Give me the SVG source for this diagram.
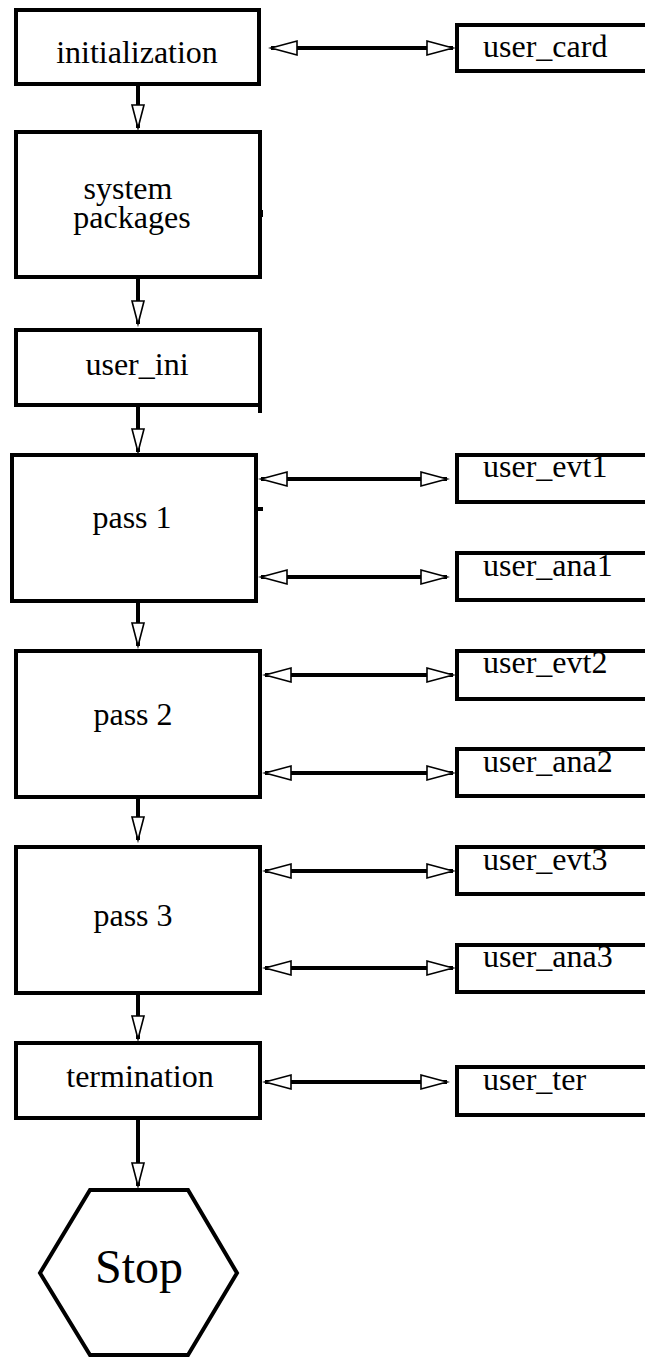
<svg xmlns="http://www.w3.org/2000/svg" width="645" height="1357" viewBox="0 0 645 1357">
<style>
  .box { fill: #fff; stroke: #000; stroke-width: 4; }
  .lbl { font-family: "Liberation Serif", "Times New Roman", serif; font-size: 32px; fill: #000; }
  .mid { text-anchor: middle; }
  .conn { stroke: #000; stroke-width: 4; fill: none; }
  .tick { fill: #000; }
</style>
<defs>
  <marker id="ah" markerUnits="userSpaceOnUse" markerWidth="30" markerHeight="18" refX="27" refY="8" orient="auto-start-reverse" viewBox="0 0 30 16">
    <path d="M1,1 L27,8 L1,15 Z" fill="#fff" stroke="#000" stroke-width="1.6"/>
  </marker>
  <marker id="av" markerUnits="userSpaceOnUse" markerWidth="28" markerHeight="16" refX="24" refY="7" orient="auto" viewBox="0 0 28 14">
    <path d="M1,1 L24,7 L1,13 Z" fill="#fff" stroke="#000" stroke-width="1.6"/>
  </marker>
</defs>
<rect width="645" height="1357" fill="#fff"/>

<g id="connectors">
  <line class="conn" x1="138" y1="86" x2="138" y2="128" marker-end="url(#av)"/>
  <line class="conn" x1="138" y1="279" x2="138" y2="324" marker-end="url(#av)"/>
  <line class="conn" x1="138" y1="407" x2="138" y2="452" marker-end="url(#av)"/>
  <line class="conn" x1="138" y1="603" x2="138" y2="646" marker-end="url(#av)"/>
  <line class="conn" x1="138" y1="792" x2="138" y2="840" marker-end="url(#av)"/>
  <line class="conn" x1="138" y1="995" x2="138" y2="1039" marker-end="url(#av)"/>
  <line class="conn" x1="138" y1="1120" x2="138" y2="1186" marker-end="url(#av)"/>

  <line class="conn" x1="271" y1="48" x2="453" y2="48" marker-start="url(#ah)" marker-end="url(#ah)"/>
  <line class="conn" x1="261" y1="479" x2="447" y2="479" marker-start="url(#ah)" marker-end="url(#ah)"/>
  <line class="conn" x1="261" y1="577" x2="447" y2="577" marker-start="url(#ah)" marker-end="url(#ah)"/>
  <line class="conn" x1="265" y1="675" x2="453" y2="675" marker-start="url(#ah)" marker-end="url(#ah)"/>
  <line class="conn" x1="265" y1="773" x2="453" y2="773" marker-start="url(#ah)" marker-end="url(#ah)"/>
  <line class="conn" x1="265" y1="871" x2="453" y2="871" marker-start="url(#ah)" marker-end="url(#ah)"/>
  <line class="conn" x1="265" y1="968" x2="453" y2="968" marker-start="url(#ah)" marker-end="url(#ah)"/>
  <line class="conn" x1="265" y1="1082" x2="447" y2="1082" marker-start="url(#ah)" marker-end="url(#ah)"/>
</g>

<g id="initialization">
  <rect class="box" x="16" y="10" width="243" height="74"/>
  <text class="lbl mid" x="137" y="63">initialization</text>
</g>
<g id="system_packages">
  <rect class="box" x="16" y="132" width="244" height="145"/>
  <rect class="tick" x="260" y="210" width="3" height="7"/>
  <text class="lbl mid" x="128" y="199">system</text>
  <text class="lbl mid" x="132" y="228">packages</text>
</g>
<g id="user_ini">
  <rect class="box" x="16" y="330" width="244" height="75"/>
  <rect class="tick" x="258" y="405" width="4" height="8"/>
  <text class="lbl mid" x="137" y="375">user_ini</text>
</g>
<g id="pass1">
  <rect class="box" x="12" y="455" width="244" height="146"/>
  <rect class="tick" x="257" y="507" width="6" height="4"/>
  <text class="lbl mid" x="132" y="528">pass 1</text>
</g>
<g id="pass2">
  <rect class="box" x="16" y="651" width="244" height="146"/>
  <text class="lbl mid" x="133" y="725">pass 2</text>
</g>
<g id="pass3">
  <rect class="box" x="16" y="847" width="244" height="146"/>
  <text class="lbl mid" x="133" y="926">pass 3</text>
</g>
<g id="termination">
  <rect class="box" x="16" y="1043" width="244" height="75"/>
  <text class="lbl mid" x="140" y="1087">termination</text>
</g>
<g id="stop">
  <polygon class="box" points="90,1190 188,1190 237,1273 188,1355 90,1355 40,1273"/>
  <text class="lbl mid" x="139" y="1283" style="font-size:48px">Stop</text>
</g>

<g id="user_card">
  <rect class="box" x="457" y="25" width="200" height="46"/>
  <text class="lbl" x="483" y="57">user_card</text>
</g>
<g id="user_evt1">
  <rect class="box" x="457" y="455" width="200" height="47"/>
  <text class="lbl" x="483" y="477">user_evt1</text>
</g>
<g id="user_ana1">
  <rect class="box" x="457" y="553" width="200" height="47"/>
  <text class="lbl" x="483" y="576">user_ana1</text>
</g>
<g id="user_evt2">
  <rect class="box" x="457" y="651" width="200" height="48"/>
  <text class="lbl" x="483" y="673">user_evt2</text>
</g>
<g id="user_ana2">
  <rect class="box" x="457" y="749" width="200" height="47"/>
  <text class="lbl" x="483" y="772">user_ana2</text>
</g>
<g id="user_evt3">
  <rect class="box" x="457" y="847" width="200" height="47"/>
  <text class="lbl" x="483" y="870">user_evt3</text>
</g>
<g id="user_ana3">
  <rect class="box" x="457" y="945" width="200" height="47"/>
  <text class="lbl" x="483" y="967">user_ana3</text>
</g>
<g id="user_ter">
  <rect class="box" x="457" y="1067" width="200" height="48"/>
  <text class="lbl" x="483" y="1090">user_ter</text>
</g>
</svg>
